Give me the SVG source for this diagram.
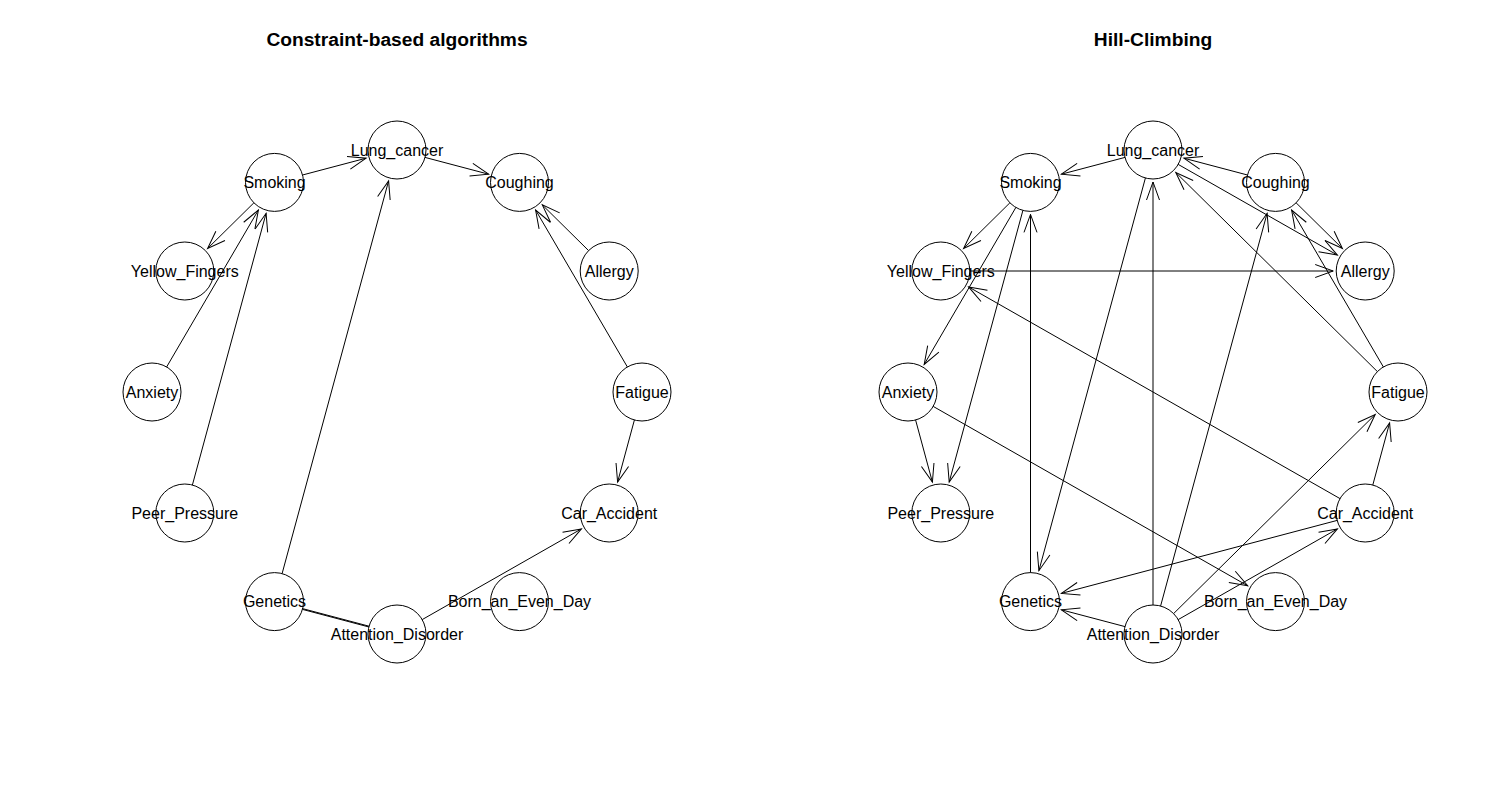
<svg xmlns="http://www.w3.org/2000/svg" width="1511" height="805" viewBox="0 0 1511 805">
<style>
.title{font-family:"Liberation Sans",Arial,sans-serif;font-weight:bold;font-size:19.2px;text-anchor:middle;fill:#000}
.lbl{font-family:"Liberation Sans",Arial,sans-serif;font-size:16px;text-anchor:middle;fill:#000}
.nd circle{fill:none;stroke:#000;stroke-width:1}
.edges line{stroke:#000;stroke-width:1;fill:none}
.edges line.d{marker-end:url(#arr)}
</style>
<defs>
<marker id="arr" markerUnits="userSpaceOnUse" markerWidth="20" markerHeight="14" refX="0" refY="0" orient="auto" overflow="visible">
<path d="M-18,-6.5 L0,0 L-18,6.5" fill="none" stroke="#000" stroke-width="1"/>
</marker>
</defs>
<rect width="1511" height="805" fill="#fff"/>
<text class="title" x="397" y="46">Constraint-based algorithms</text>
<text class="title" x="1153" y="46">Hill-Climbing</text>

<g id="connectors-left" class="edges">
<line class="d" x1="302.5" y1="175.0" x2="366.1" y2="158.2"/>
<line class="d" x1="425.0" y1="157.4" x2="488.6" y2="174.2"/>
<line class="d" x1="253.9" y1="202.8" x2="207.6" y2="248.5"/>
<line class="d" x1="166.6" y1="367.0" x2="258.4" y2="210.0"/>
<line class="d" x1="192.4" y1="485.0" x2="266.1" y2="213.3"/>
<line class="d" x1="282.1" y1="573.6" x2="388.6" y2="180.9"/>
<line class="d" x1="588.6" y1="250.6" x2="542.3" y2="204.9"/>
<line class="d" x1="627.4" y1="367.0" x2="535.6" y2="210.0"/>
<line class="d" x1="634.4" y1="420.0" x2="617.6" y2="482.1"/>
<line class="d" x1="422.2" y1="619.6" x2="581.4" y2="528.9"/>
<line x1="302.5" y1="608.6" x2="369.0" y2="626.2"/>
<line x1="302.5" y1="609.4" x2="369.0" y2="627.0"/>
</g>

<g id="connectors-right" class="edges">
<line class="d" x1="1125.0" y1="157.4" x2="1061.4" y2="174.2"/>
<line class="d" x1="1247.5" y1="175.0" x2="1183.9" y2="158.2"/>
<line class="d" x1="1377.4" y1="371.6" x2="1175.8" y2="172.5"/>
<line class="d" x1="1178.2" y1="164.4" x2="1337.4" y2="255.1"/>
<line class="d" x1="1296.1" y1="202.8" x2="1342.4" y2="248.5"/>
<line class="d" x1="1383.4" y1="367.0" x2="1291.6" y2="210.0"/>
<line class="d" x1="1160.6" y1="606.0" x2="1267.1" y2="213.3"/>
<line class="d" x1="1009.9" y1="202.8" x2="963.6" y2="248.5"/>
<line class="d" x1="1015.9" y1="207.4" x2="924.2" y2="364.4"/>
<line class="d" x1="1022.9" y1="210.4" x2="949.2" y2="482.1"/>
<line class="d" x1="1030.5" y1="572.6" x2="1030.5" y2="214.4"/>
<line class="d" x1="1145.4" y1="178.0" x2="1038.9" y2="570.7"/>
<line class="d" x1="1153" y1="605" x2="1153" y2="182"/>
<line class="d" x1="1340.0" y1="498.6" x2="968.6" y2="286.9"/>
<line class="d" x1="915.6" y1="420.0" x2="932.4" y2="482.1"/>
<line class="d" x1="933.2" y1="406.4" x2="1247.7" y2="585.8"/>
<line class="d" x1="1337.2" y1="520.4" x2="1061.4" y2="593.4"/>
<line class="d" x1="1125.0" y1="626.6" x2="1061.4" y2="609.8"/>
<line class="d" x1="1178.2" y1="619.6" x2="1337.4" y2="528.9"/>
<line class="d" x1="1173.6" y1="613.6" x2="1375.2" y2="414.5"/>
<line class="d" x1="1372.8" y1="485.0" x2="1389.6" y2="422.9"/>
<line class="d" x1="969.8" y1="271" x2="1333.2" y2="271"/>
</g>

<g id="nodes-left">
<g id="L-Lung_cancer" class="nd"><circle cx="397" cy="150" r="29"/><text class="lbl" x="397" y="155.5">Lung_cancer</text></g>
<g id="L-Coughing" class="nd"><circle cx="519.5" cy="182.4" r="29"/><text class="lbl" x="519.5" y="187.9">Coughing</text></g>
<g id="L-Allergy" class="nd"><circle cx="609.2" cy="271" r="29"/><text class="lbl" x="609.2" y="276.5">Allergy</text></g>
<g id="L-Fatigue" class="nd"><circle cx="642" cy="392" r="29"/><text class="lbl" x="642" y="397.5">Fatigue</text></g>
<g id="L-Car_Accident" class="nd"><circle cx="609.2" cy="513" r="29"/><text class="lbl" x="609.2" y="518.5">Car_Accident</text></g>
<g id="L-Born_an_Even_Day" class="nd"><circle cx="519.5" cy="601.6" r="29"/><text class="lbl" x="519.5" y="607.1">Born_an_Even_Day</text></g>
<g id="L-Attention_Disorder" class="nd"><circle cx="397" cy="634" r="29"/><text class="lbl" x="397" y="639.5">Attention_Disorder</text></g>
<g id="L-Genetics" class="nd"><circle cx="274.5" cy="601.6" r="29"/><text class="lbl" x="274.5" y="607.1">Genetics</text></g>
<g id="L-Peer_Pressure" class="nd"><circle cx="184.8" cy="513" r="29"/><text class="lbl" x="184.8" y="518.5">Peer_Pressure</text></g>
<g id="L-Anxiety" class="nd"><circle cx="152" cy="392" r="29"/><text class="lbl" x="152" y="397.5">Anxiety</text></g>
<g id="L-Yellow_Fingers" class="nd"><circle cx="184.8" cy="271" r="29"/><text class="lbl" x="184.8" y="276.5">Yellow_Fingers</text></g>
<g id="L-Smoking" class="nd"><circle cx="274.5" cy="182.4" r="29"/><text class="lbl" x="274.5" y="187.9">Smoking</text></g>
</g>

<g id="nodes-right">
<g id="R-Lung_cancer" class="nd"><circle cx="1153" cy="150" r="29"/><text class="lbl" x="1153" y="155.5">Lung_cancer</text></g>
<g id="R-Coughing" class="nd"><circle cx="1275.5" cy="182.4" r="29"/><text class="lbl" x="1275.5" y="187.9">Coughing</text></g>
<g id="R-Allergy" class="nd"><circle cx="1365.2" cy="271" r="29"/><text class="lbl" x="1365.2" y="276.5">Allergy</text></g>
<g id="R-Fatigue" class="nd"><circle cx="1398" cy="392" r="29"/><text class="lbl" x="1398" y="397.5">Fatigue</text></g>
<g id="R-Car_Accident" class="nd"><circle cx="1365.2" cy="513" r="29"/><text class="lbl" x="1365.2" y="518.5">Car_Accident</text></g>
<g id="R-Born_an_Even_Day" class="nd"><circle cx="1275.5" cy="601.6" r="29"/><text class="lbl" x="1275.5" y="607.1">Born_an_Even_Day</text></g>
<g id="R-Attention_Disorder" class="nd"><circle cx="1153" cy="634" r="29"/><text class="lbl" x="1153" y="639.5">Attention_Disorder</text></g>
<g id="R-Genetics" class="nd"><circle cx="1030.5" cy="601.6" r="29"/><text class="lbl" x="1030.5" y="607.1">Genetics</text></g>
<g id="R-Peer_Pressure" class="nd"><circle cx="940.8" cy="513" r="29"/><text class="lbl" x="940.8" y="518.5">Peer_Pressure</text></g>
<g id="R-Anxiety" class="nd"><circle cx="908" cy="392" r="29"/><text class="lbl" x="908" y="397.5">Anxiety</text></g>
<g id="R-Yellow_Fingers" class="nd"><circle cx="940.8" cy="271" r="29"/><text class="lbl" x="940.8" y="276.5">Yellow_Fingers</text></g>
<g id="R-Smoking" class="nd"><circle cx="1030.5" cy="182.4" r="29"/><text class="lbl" x="1030.5" y="187.9">Smoking</text></g>
</g>
</svg>
